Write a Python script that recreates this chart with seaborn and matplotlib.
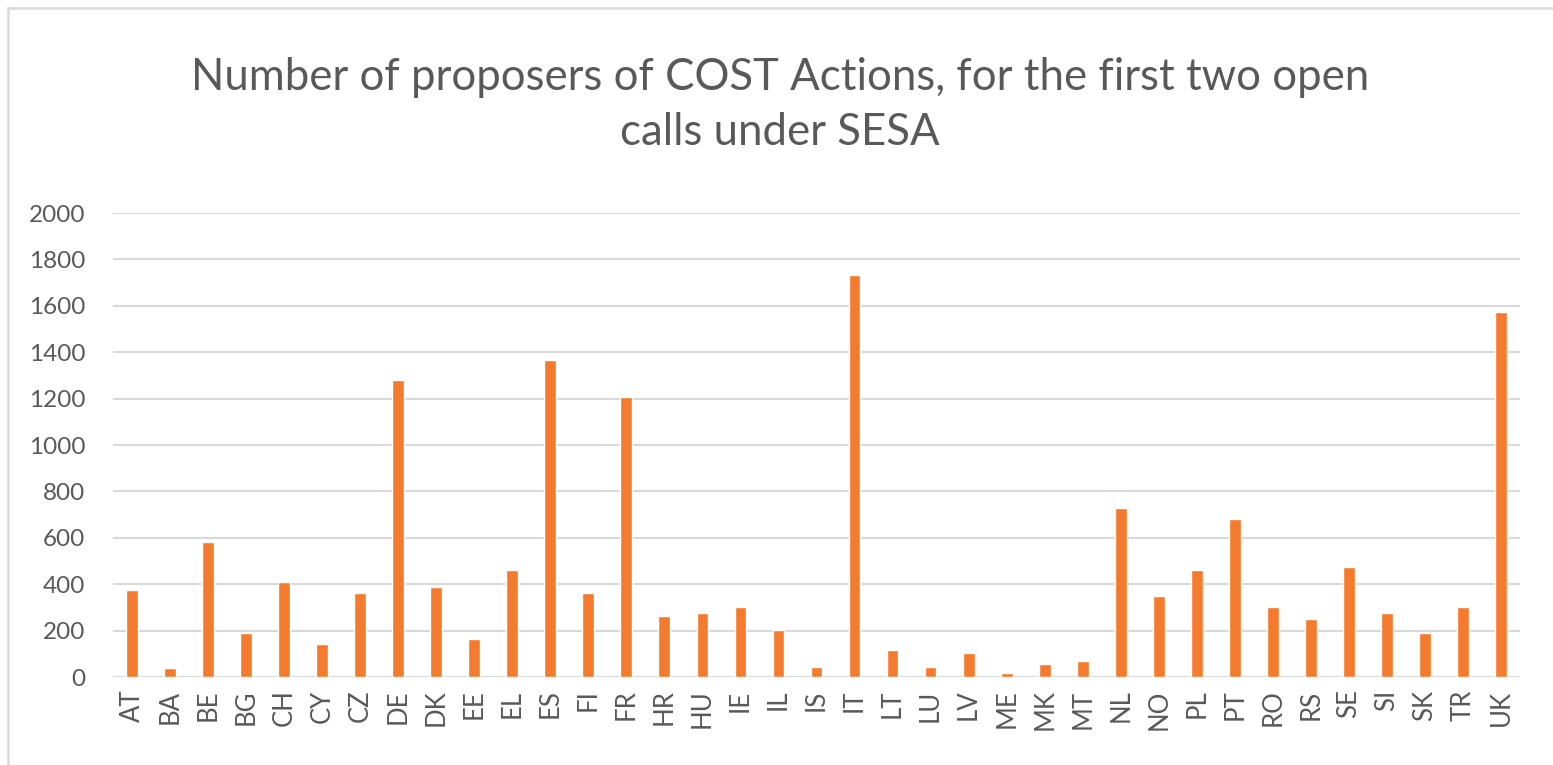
import matplotlib
matplotlib.use("Agg")
import matplotlib.pyplot as plt
import seaborn as sns
import pandas as pd
from matplotlib.lines import Line2D

countries = ["AT", "BA", "BE", "BG", "CH", "CY", "CZ", "DE", "DK", "EE", "EL", "ES",
             "FI", "FR", "HR", "HU", "IE", "IL", "IS", "IT", "LT", "LU", "LV", "ME",
             "MK", "MT", "NL", "NO", "PL", "PT", "RO", "RS", "SE", "SI", "SK", "TR", "UK"]
proposers = [374, 40, 583, 190, 410, 141, 363, 1281, 388, 165, 460, 1367,
             363, 1206, 263, 276, 302, 201, 43, 1734, 115, 43, 104, 19,
             56, 69, 729, 350, 460, 681, 301, 250, 472, 276, 190, 301, 1573]
yticks = [0, 200, 400, 600, 800, 1000, 1200, 1400, 1600, 1800, 2000]
title = "Number of proposers of COST Actions, for the first two open\ncalls under SESA"

sns.set_theme(style="white")
plt.rcParams['font.family'] = ['Lato', 'DejaVu Sans']

W, H = 1553, 765
fig = plt.figure(figsize=(W / 100, H / 100), dpi=100)
ax = fig.add_axes([113 / W, 1 - 677 / H, (1520 - 113) / W, (677 - 213) / H])

df = pd.DataFrame({"country": countries, "value": proposers})
sns.barplot(data=df, x="country", y="value", color="#F47A2E", saturation=1,
            width=0.31, ax=ax, zorder=3)

ax.set_ylim(0, 2000)
ax.set_yticks(yticks)
ax.set_yticklabels([str(t) for t in yticks])
ax.set_xlim(-0.5, len(countries) - 0.5)
ax.grid(axis="y", color="#D9D9D9", linewidth=1.5, zorder=0)
ax.grid(axis="x", visible=False)
ax.set_axisbelow(True)
for s in ax.spines.values():
    s.set_visible(False)
ax.set_xlabel("")
ax.set_ylabel("")
ax.tick_params(axis="y", length=0, pad=20, labelsize=17.5, labelcolor="#595959")
ax.tick_params(axis="x", length=0, pad=9, labelsize=18.5, labelcolor="#595959",
               labelrotation=90)

fig.text(780 / W, 1 - 105 / H, title, ha="center", va="center", fontsize=31.5,
         color="#595959", linespacing=1.45)

# chart frame lines (top and left)
fig.add_artist(Line2D([8 / W, 1], [1 - 8 / H, 1 - 8 / H], color="#D9D9D9", lw=1.8,
                      transform=fig.transFigure))
fig.add_artist(Line2D([8 / W, 8 / W], [0, 1 - 8 / H], color="#D9D9D9", lw=1.8,
                      transform=fig.transFigure))

fig.savefig("out.png", dpi=100, facecolor="white")
